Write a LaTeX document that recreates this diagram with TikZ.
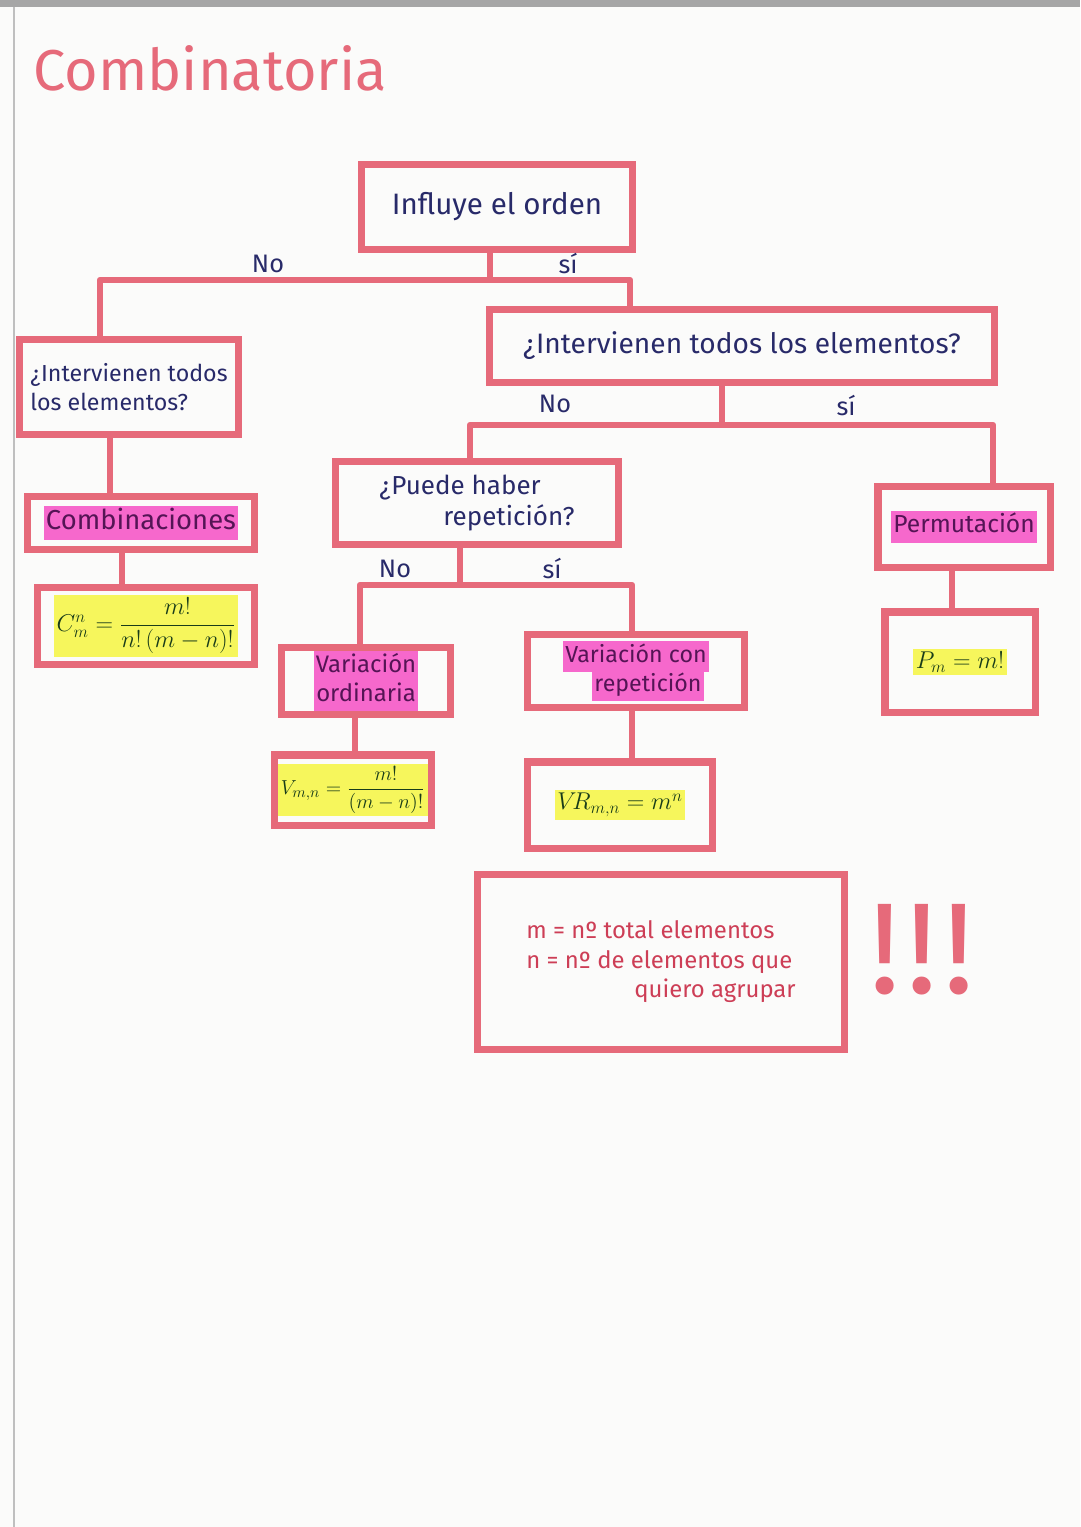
\documentclass[tikz,border=0pt]{standalone}
\usepackage{amsmath}
\usepackage{fontspec}
\setmainfont{Fira Sans}
\usetikzlibrary{positioning}

\definecolor{papel}{RGB}{251,251,250}
\definecolor{linea}{RGB}{230,106,122}
\definecolor{azul}{RGB}{40,42,105}
\definecolor{rosa}{RGB}{246,104,204}
\definecolor{amarillo}{RGB}{246,246,92}
\definecolor{morado}{RGB}{85,20,85}
\definecolor{verde}{RGB}{25,60,25}
\definecolor{nota}{RGB}{205,62,86}

\newcommand{\resaltarosa}[1]{{\setlength{\fboxsep}{1.5pt}\colorbox{rosa}{\strut\textcolor{morado}{#1}}}}
\newcommand{\resaltaamarillo}[1]{{\setlength{\fboxsep}{2pt}\colorbox{amarillo}{\textcolor{verde}{#1}}}}

\begin{document}
\begin{tikzpicture}[x=0.025cm,y=-0.025cm]

\tikzstyle{caja}=[draw=linea, line width=5pt, fill=papel, align=center, inner sep=2pt, text=azul]
\tikzstyle{line}=[draw=linea, line width=4.5pt, line join=round]
\tikzstyle{etiqueta}=[text=azul, font=\fontsize{18}{20}\selectfont]

\useasboundingbox[fill=papel] (0,0) rectangle (1080,1527);
\fill[black!35] (0,0) rectangle (1080,7);
\draw[black!25, line width=1.5pt] (14,7) -- (14,1527);

\node[text=linea, font=\fontsize{41}{45}\selectfont] (titulo) at (210,68) {Combinatoria};

\node[caja, minimum width=6.75cm, minimum height=2.125cm, font=\fontsize{21}{24}\selectfont] (orden) at (497,207) {Influye el orden};

\node[caja, minimum width=5.45cm, minimum height=2.375cm, align=left, font=\fontsize{16.5}{21}\selectfont] (todos_izq) at (129,387) {¿Intervienen todos\\los elementos?};
\node[caja, minimum width=12.625cm, minimum height=1.825cm, font=\fontsize{20}{23}\selectfont] (todos_der) at (742,346) {¿Intervienen todos los elementos?};

\node[caja, minimum width=5.675cm, minimum height=1.325cm, font=\fontsize{19.5}{21}\selectfont] (combinaciones) at (141,523) {\resaltarosa{Combinaciones}};
\node[caja, minimum width=5.425cm, minimum height=1.925cm, font=\fontsize{17}{20}\selectfont] (formula_c) at (146,626) {\resaltaamarillo{$C_{m}^{n}=\dfrac{m!}{n!\,(m-n)!}$}};

\node[caja, minimum width=7.05cm, minimum height=2.075cm, align=left, font=\fontsize{18.5}{22}\selectfont] (repeticion) at (477,503) {¿Puede haber\\\hspace{1.6cm}repetición?};

\node[caja, minimum width=4.3cm, minimum height=2.025cm, font=\fontsize{17.5}{20}\selectfont] (permutacion) at (964,527) {\resaltarosa{Permutación}};
\node[caja, minimum width=3.75cm, minimum height=2.5cm, font=\fontsize{17}{20}\selectfont] (formula_p) at (960,662) {\resaltaamarillo{$P_m=m!$}};

\node[caja, minimum width=4.2cm, minimum height=1.675cm, font=\fontsize{17}{18}\selectfont] (var_ord) at (366,681) {\resaltarosa{Variación}\\[-2pt]\resaltarosa{ordinaria}};
\node[caja, minimum width=3.925cm, minimum height=1.75cm, font=\fontsize{15}{18}\selectfont] (formula_v) at (353,790) {\resaltaamarillo{$V_{m,n}=\dfrac{m!}{(m-n)!}$}};

\node[caja, minimum width=5.425cm, minimum height=1.825cm, font=\fontsize{16.5}{18}\selectfont] (var_rep) at (636,671) {\resaltarosa{Variación con}\\[-2pt]\hspace{0.6cm}\resaltarosa{repetición}};
\node[caja, minimum width=4.6cm, minimum height=2.15cm, font=\fontsize{18}{21}\selectfont] (formula_vr) at (620,805) {\resaltaamarillo{$V\!R_{m,n}=m^{n}$}};

\node[caja, minimum width=9.175cm, minimum height=4.375cm, align=left, text=nota, font=\fontsize{17}{21}\selectfont] (nota) at (661,962) {m = nº total elementos\\n = nº de elementos que\\\hspace{2.7cm}quiero agrupar\hspace{0.5cm}};
\node[text=linea, font=\fontsize{92}{92}\selectfont] (atencion) at (922,950) {!\kern4pt!\kern4pt!};

\coordinate (orden_tronco) at (490,280);
\coordinate (orden_izq) at (100,280);
\coordinate (orden_der) at (630,280);
\coordinate (der_tronco) at (722,425);
\coordinate (der_izq) at (470,425);
\coordinate (der_der) at (993,425);
\coordinate (rep_tronco) at (460,585);
\coordinate (rep_izq) at (360,585);
\coordinate (rep_der) at (632,585);
\coordinate (izq_tronco) at (110,0);
\coordinate (comb_tronco) at (122,0);
\coordinate (ord_tronco) at (355,0);
\coordinate (con_tronco) at (632,0);
\coordinate (perm_tronco) at (952,0);

\path[line] (orden_tronco |- orden.south) -- (orden_tronco);
\path[line] (orden_izq |- todos_izq.north) -- (orden_izq) -- (orden_der) -- (orden_der |- todos_der.north);

\path[line] (der_tronco |- todos_der.south) -- (der_tronco);
\path[line] (der_izq |- repeticion.north) -- (der_izq) -- (der_der) -- (der_der |- permutacion.north);

\path[line] (rep_tronco |- repeticion.south) -- (rep_tronco);
\path[line] (rep_izq |- var_ord.north) -- (rep_izq) -- (rep_der) -- (rep_der |- var_rep.north);

\path[line] (todos_izq.south -| izq_tronco) -- (combinaciones.north -| izq_tronco);
\path[line] (combinaciones.south -| comb_tronco) -- (formula_c.north -| comb_tronco);
\path[line] (var_ord.south -| ord_tronco) -- (formula_v.north -| ord_tronco);
\path[line] (var_rep.south -| con_tronco) -- (formula_vr.north -| con_tronco);
\path[line] (permutacion.south -| perm_tronco) -- (formula_p.north -| perm_tronco);

\node[etiqueta] (no_orden) at (268,264) {No};
\node[etiqueta] (si_orden) at (568,264) {sí};
\node[etiqueta] (no_todos) at (555,404) {No};
\node[etiqueta] (si_todos) at (846,406) {sí};
\node[etiqueta] (no_rep) at (395,569) {No};
\node[etiqueta] (si_rep) at (552,569) {sí};

\end{tikzpicture}
\end{document}
